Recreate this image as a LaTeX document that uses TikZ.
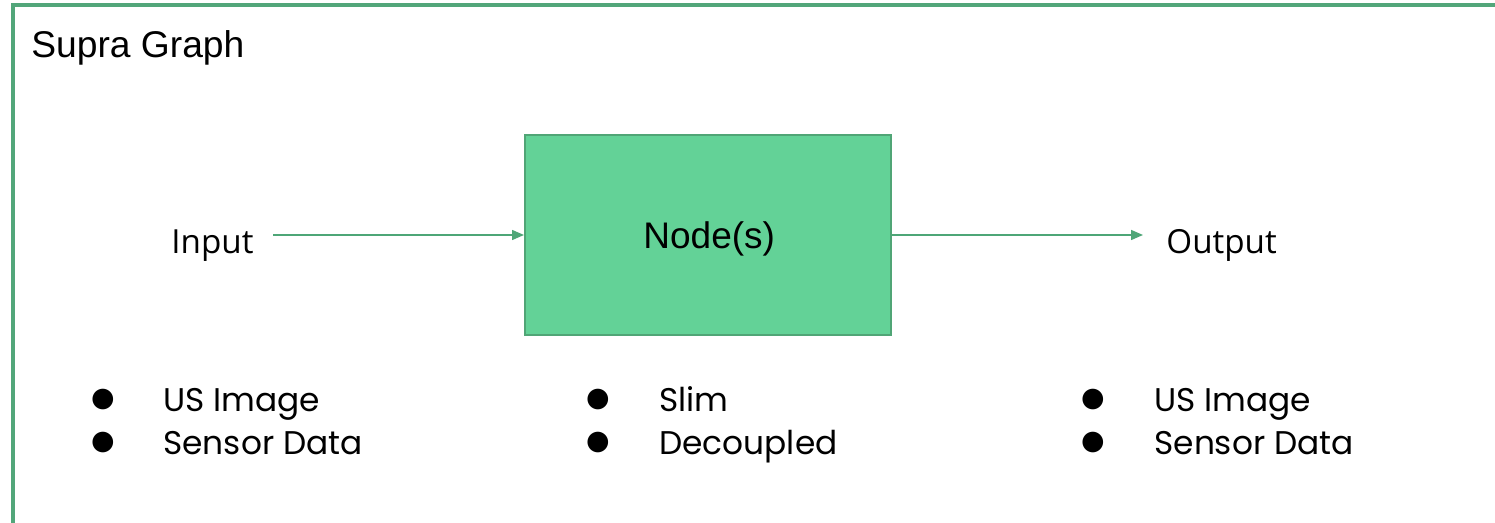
\documentclass[tikz,border=0pt]{standalone}
\usepackage{fontspec}
\setmainfont{Liberation Sans}
\newfontfamily\labelfont{Open Sans}
\newfontfamily\listfont{Poppins}
\newfontfamily\symfont{DejaVu Sans}
\usetikzlibrary{arrows.meta}
\definecolor{framegreen}{RGB}{82,166,122}
\definecolor{boxfill}{RGB}{99,210,151}
\definecolor{boxline}{RGB}{80,165,118}
\definecolor{arrowgreen}{RGB}{78,166,119}
\tikzset{
  frameline/.style={draw=framegreen, line width=1.8pt},
  blockbox/.style={draw=boxline, line width=1pt, fill=boxfill},
  flow/.style={draw=arrowgreen, line width=0.75pt, -{Triangle[length=6pt,width=5pt]}},
  title/.style={anchor=base west, inner sep=0, font=\fontsize{18.6}{18.6}\selectfont},
  iolabel/.style={anchor=base west, inner sep=0, font=\labelfont\fontsize{16.6}{16.6}\selectfont},
  item/.style={anchor=base west, inner sep=0, font=\listfont\fontsize{16.4}{16.4}\selectfont},
  dot/.style={inner sep=0, font=\symfont\fontsize{13.5}{13.5}\selectfont},
}
\begin{document}
\begin{tikzpicture}[x=0.5pt, y=-0.5pt]
  \useasboundingbox (0,0) rectangle (1495,523);
  \fill[white] (0,0) rectangle (1495,523);
  % open frame: top and left edges only, running off the page
  \draw[frameline] (13,530) -- (13,5) -- (1500,5);
  \node[title] (title) at (31,58) {Supra Graph};

  % processing block
  \node[blockbox, minimum width=183pt, minimum height=100pt, inner sep=0] (blk) at (708,235) {};
  \node[anchor=base west, inner sep=0, font=\fontsize{18.5}{18.5}\selectfont] (blktext) at (643,249) {Node(s)};

  % inputs and outputs
  \node[iolabel] (in) at (171,254) {Input};
  \node[iolabel] (out) at (1166,254) {Output};
  \coordinate (inTail) at (273,235);
  \coordinate (outHead) at (1143,235);
  \draw[flow] (inTail) -- (blk.west |- inTail);
  \draw[flow] (blk.east |- outHead) -- (outHead);

  % bullet lists
  \foreach \bx/\tx/\a/\b/\n in {103/163/US Image/Sensor Data/l, 598/659/Slim/Decoupled/m, 1093/1154/US Image/Sensor Data/r}{
    \node[dot] (\n d1) at (\bx,400) {●};
    \node[dot] (\n d2) at (\bx,443) {●};
    \node[item] (\n t1) at (\tx,412) {\a};
    \node[item] (\n t2) at (\tx,455) {\b};
  }
\end{tikzpicture}
\end{document}
